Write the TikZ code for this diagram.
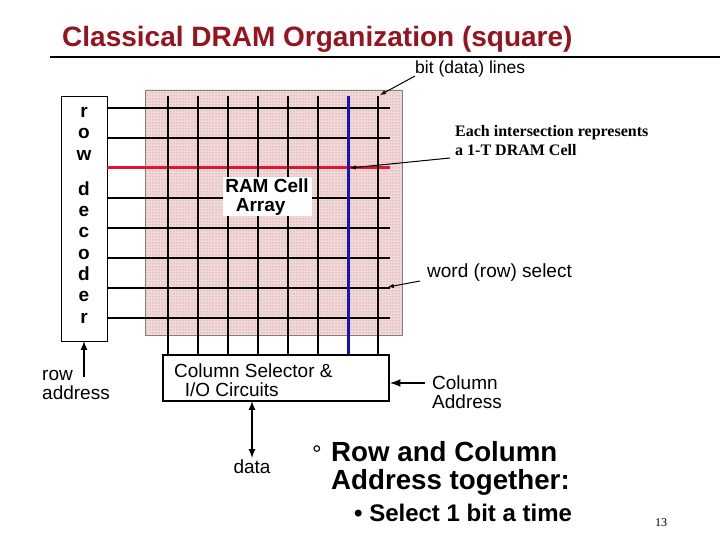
\documentclass[tikz,border=0pt]{standalone}
\usepackage{fontspec}
\setmainfont{Liberation Serif}
\setsansfont{Liberation Sans}
\usetikzlibrary{patterns}
\definecolor{titlered}{RGB}{150,20,30}
\definecolor{arrpink}{RGB}{245,215,215}
\definecolor{wred}{RGB}{225,20,50}
\definecolor{bblue}{RGB}{20,20,180}
\tikzset{
  lab/.style={font=\sffamily\fontsize{19}{19}\selectfont, align=left, inner sep=0pt},
  ptr/.style={-latex, line width=1pt},
  grid/.style={line width=1.6pt},
}
\begin{document}
\begin{tikzpicture}[x=1pt,y=-1pt]
\useasboundingbox (0,0) rectangle (720,540);
\node[anchor=base west, inner sep=0pt, text=titlered, font=\sffamily\bfseries\fontsize{28}{30}\selectfont] (title) at (62,47) {Classical DRAM Organization (square)};
\draw[line width=2pt] (50,57) -- (720,57);
\node[lab, anchor=base west, font=\sffamily\fontsize{17.5}{18}\selectfont] (bitl) at (415,74) {bit (data) lines};
% array
\fill[arrpink] (145,90) rectangle (402,335);
\fill[pattern=dots, pattern color=black!45] (145,90) rectangle (402,335);
\draw[line width=0.5pt, black!50] (145,90) rectangle (402,335);
\node[draw, line width=1pt, minimum width=46pt, minimum height=245pt, inner sep=0pt] (rd) at (84,219) {};
\foreach \y in {108,138,198,228,258,288,318} \draw[grid] (107,\y) -- (390,\y);
\draw[line width=3pt, wred] (107,168) -- (390,168);
\foreach \x in {168,198,228,258,288,318,378} \draw[grid] (\x,96) -- (\x,355);
\draw[line width=3pt, bblue] (348,96) -- (348,355);
\node[fill=white, minimum width=89pt, minimum height=39pt, inner sep=0pt, font=\sffamily\bfseries\fontsize{19}{19}\selectfont, align=left] (ram) at (267,197) {RAM Cell\\\ \ Array};
\node[font=\sffamily\bfseries\fontsize{19}{21.3}\selectfont, align=center, inner sep=0pt, anchor=north] (rdt) at (84,107) {r\\o\\w\\[14pt]d\\e\\c\\o\\d\\e\\r};
\node[draw, line width=1.2pt, minimum width=226pt, minimum height=46pt, inner sep=0pt] (cs) at (276,378) {};
\node[lab, anchor=north west] (cst) at (174,364) {Column Selector \&\\\ \ I/O Circuits};
\coordinate (rdb) at (84,341);
\node[lab, anchor=north west] (ra) at (42,370) {row\\address};
\draw[ptr, line width=2pt] (84,377) -- (rdb);
\coordinate (csb) at (252,401);
\node[lab, anchor=north] (data) at (252,460) {data};
\draw[latex-latex, line width=2pt] (csb) -- (252,458);
\node[lab, anchor=north west] (ca) at (432,376) {Column\\Address};
\draw[ptr, line width=2.5pt] (425,383) -- (390,383);
\node[anchor=north west, inner sep=0pt, font=\bfseries\fontsize{16}{19}\selectfont, align=left] (each) at (455,125) {Each intersection represents\\a 1-T DRAM Cell};
\draw[ptr] (450,158) -- (350,168);
\draw[ptr] (415,76) -- (380,95);
\node[lab, anchor=base west] (word) at (427,277) {word (row) select};
\draw[ptr] (420,281) -- (388,287);
\node[anchor=base west, inner sep=0pt, font=\sffamily\fontsize{24}{24}\selectfont] (deg) at (312,462) {°};
\node[anchor=north west, inner sep=0pt, font=\sffamily\bfseries\fontsize{27.7}{28}\selectfont, align=left] (rc) at (331,441) {Row and Column\\Address together:};
\node[anchor=north west, inner sep=0pt, font=\sffamily\bfseries\fontsize{24}{24}\selectfont] (sel) at (354,504) {• Select 1 bit a time};
\node[anchor=base west, inner sep=0pt, font=\fontsize{12}{12}\selectfont] (pg) at (655,526) {13};
\end{tikzpicture}
\end{document}
